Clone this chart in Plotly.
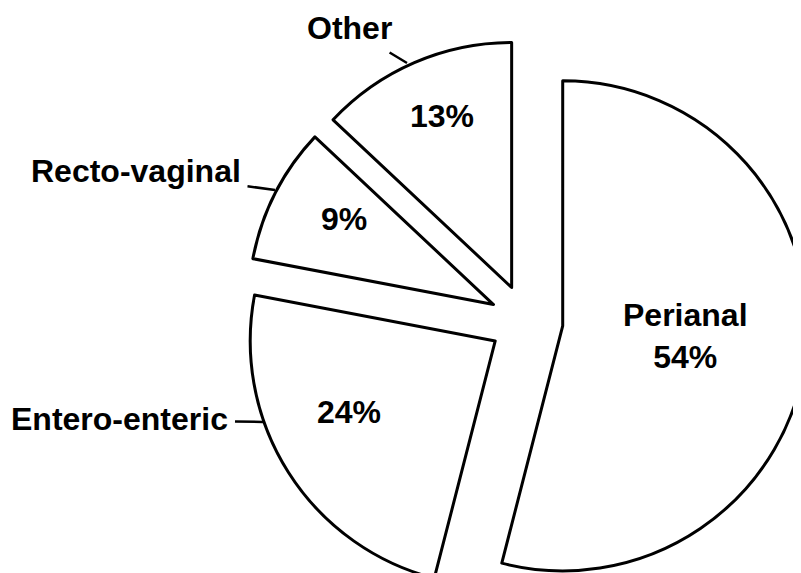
import plotly.graph_objects as go

# ---- data ----
categories = ["Perianal", "Entero-enteric", "Recto-vaginal", "Other"]
percent_values = [54, 24, 9, 13]
slice_pull = [0.15, 0.15, 0.15, 0.15]
outside_labels = ["Other", "Recto-vaginal", "Entero-enteric"]

W, H = 800, 595
FONT = "Liberation Sans, Arial, Helvetica, sans-serif"
FS = 32

fig = go.Figure(
    go.Pie(
        labels=categories,
        values=percent_values,
        sort=False,
        direction="clockwise",
        rotation=0,
        pull=slice_pull,
        marker=dict(colors=["white"] * 4, line=dict(color="black", width=3)),
        textinfo="none",
        hoverinfo="label+percent",
        showlegend=False,
        domain=dict(x=[(W - 563.5) / W, 1], y=[0, 563.5 / H]),
    )
)

font = dict(family=FONT, size=FS, color="black", weight="bold")

# in-slice percentage labels (pixel anchor positions)
inside_text = [f"{categories[0]}<br>{percent_values[0]}%"] + [f"{v}%" for v in percent_values[1:]]
inside_pos = [(677, 328), (341, 404), (336, 211), (434, 108)]
for txt, (px, py) in zip(inside_text, inside_pos):
    fig.add_annotation(x=px / W, y=1 - py / H, xref="paper", yref="paper",
                       xanchor="center", yanchor="middle",
                       text=txt, showarrow=False, font=font)

# leader-line tips (pixel) and text offsets for outside category labels
tips = [(399, 55), (267, 182), (255, 414)]
offsets = [(-58, -35), (-139, -19), (-143, -3)]
for lab, (tx, ty), (ox, oy) in zip(outside_labels, tips, offsets):
    fig.add_annotation(
        x=tx / W, y=1 - ty / H, xref="paper", yref="paper",
        text=lab, showarrow=True, arrowhead=0, arrowwidth=2.5, arrowcolor="black",
        ax=ox, ay=oy, borderpad=6, font=font,
    )

fig.update_layout(
    width=W, height=H,
    margin=dict(l=0, r=0, t=0, b=0),
    paper_bgcolor="white", plot_bgcolor="white",
)

fig.write_html("out.html")
